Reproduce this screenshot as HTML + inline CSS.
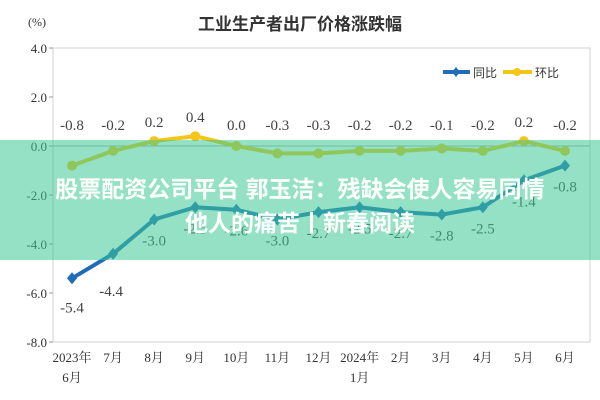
<!DOCTYPE html>
<html><head><meta charset="utf-8"><style>
body{margin:0;width:600px;height:400px;background:#fff;overflow:hidden;position:relative;font-family:"Liberation Serif","Noto Serif CJK SC",serif}
svg{position:absolute;left:0;top:0}
.ov{position:absolute;left:0;top:140px;width:600px;height:120px;background:rgba(60,200,150,0.55)}
.ot{position:absolute;left:0;width:600px;text-align:center;color:#fff;font:bold 23px "Liberation Sans","Noto Sans CJK SC",sans-serif}
</style></head><body>
<svg width="600" height="400" id="c"></svg>
<div class="ov"></div>
<div class="ot" style="top:170px">股票配资公司平台 郭玉洁：残缺会使人容易同情</div>
<div class="ot" style="top:204px">他人的痛苦丨新春阅读</div>
<script>
const categories=["2023年|6月","7月","8月","9月","10月","11月","12月","2024年|1月","2月","3月","4月","5月","6月"];
const yoy=[-5.4,-4.4,-3.0,-2.5,-2.6,-3.0,-2.7,-2.5,-2.7,-2.8,-2.5,-1.4,-0.8];
const mom=[-0.8,-0.2,0.2,0.4,0.0,-0.3,-0.3,-0.2,-0.2,-0.1,-0.2,0.2,-0.2];
const yTicks=[4,2,0,-2,-4,-6,-8];
const S="http://www.w3.org/2000/svg",svg=document.getElementById('c');
const L=53,R=590,T=48,B=342;
const x=i=>72+i*(565-72)/(categories.length-1);
const y=v=>T+(4-v)*(B-T)/12;
function el(t,a,p){const e=document.createElementNS(S,t);for(const k in a)e.setAttribute(k,a[k]);(p||svg).appendChild(e);return e;}
let e=el('rect',{x:L,y:T,width:R-L,height:B-T,fill:'none',stroke:'#d0d0d0'});

e=el('text',{x:300,y:30,'text-anchor':'middle','font-size':17,'font-weight':'bold',fill:'#333','font-family':'"Liberation Sans","Noto Sans CJK SC",sans-serif'});e.textContent='工业生产者出厂价格涨跌幅';

e=el('text',{x:28,y:26,'font-size':12,fill:'#333'});e.textContent='(%)';

yTicks.forEach(v=>{e=el('text',{x:47,y:y(v)+5,'text-anchor':'end','font-size':13,fill:'#333'});e.textContent=v.toFixed(1);

el('line',{x1:L-4,x2:L,y1:y(v),y2:y(v),stroke:'#999'});});
e=el('line',{x1:L,x2:R,y1:y(0),y2:y(0),stroke:'#aaa'});

categories.forEach((c,i)=>{c.split('|').forEach((s,j)=>{e=el('text',{x:x(i),y:362+j*20,'text-anchor':'middle','font-size':13,fill:'#333'});e.textContent=s;
});});
function series(d,col,name,mk,lab){
 e=el('polyline',{points:d.map((v,i)=>x(i)+','+y(v)).join(' '),fill:'none',stroke:col,'stroke-width':4});
 
 d.forEach((v,i)=>{e=mk(x(i),y(v));
  const p=lab(v,i);e=el('text',{x:p[0],y:p[1],'text-anchor':'middle','font-size':15,fill:'#444'});e.textContent=v.toFixed(1);
  });
}
series(yoy,'#1f6db8','yoy',(a,b)=>el('polygon',{points:`${a},${b-6} ${a+5},${b} ${a},${b+6} ${a-5},${b}`,fill:'#1f6db8'}),
 (v,i)=>[x(i)+(i==1?-2:0), i==0?y(v)+34:(i==1?y(v)+42:y(v)+26)]);
series(mom,'#f5c518','mom',(a,b)=>el('circle',{cx:a,cy:b,r:5,fill:'#f5c518'}),
 (v,i)=>[x(i),Math.min(y(v)-14,130)]);
e=el('line',{x1:443,x2:470,y1:72,y2:72,stroke:'#1f6db8','stroke-width':4});
el('polygon',{points:'456,67 460,72 456,77 452,72',fill:'#1f6db8'});
e=el('text',{x:473,y:77,'font-size':12,fill:'#333','font-family':'"Liberation Sans","Noto Sans CJK SC",sans-serif'});e.textContent='同比';
e=el('line',{x1:503,x2:532,y1:72,y2:72,stroke:'#f5c518','stroke-width':4});
el('circle',{cx:517,cy:72,r:4,fill:'#f5c518'});
e=el('text',{x:535,y:77,'font-size':12,fill:'#333','font-family':'"Liberation Sans","Noto Sans CJK SC",sans-serif'});e.textContent='环比';
</script>
</body></html>
